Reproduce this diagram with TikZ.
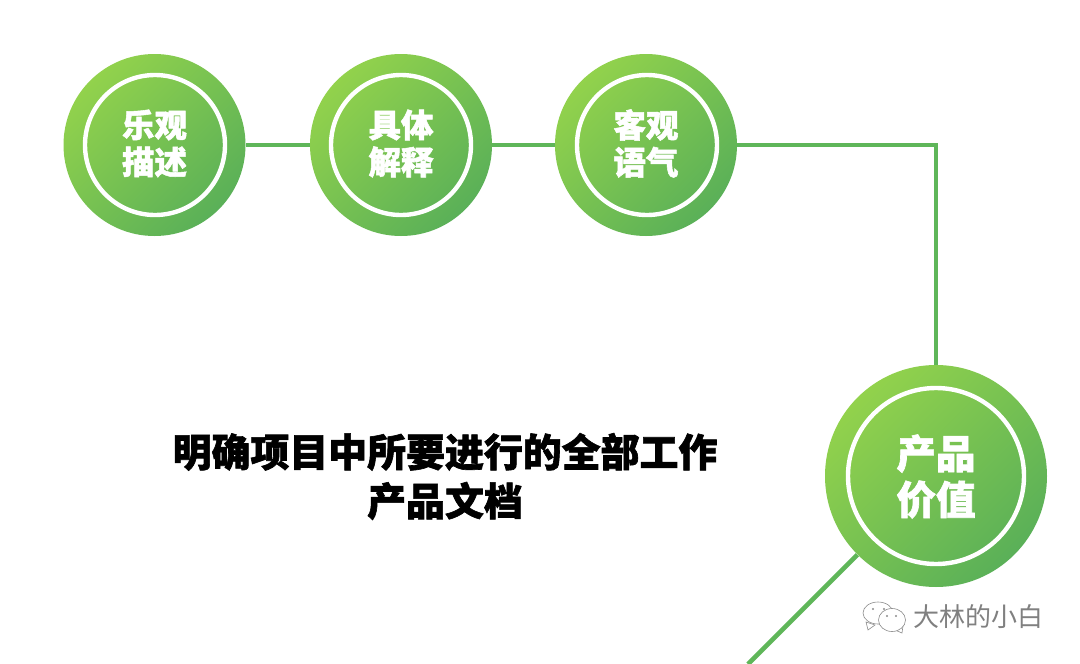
\documentclass[tikz,border=0pt]{standalone}
\usepackage{fontspec}
\newfontfamily\cjk[BoldFeatures={FakeBold=1.6}]{Noto Sans CJK SC}
\definecolor{lightg}{HTML}{92D24C}
\definecolor{darkg}{HTML}{5AB058}
\definecolor{lineg}{HTML}{5FB659}
\tikzset{
  disc/.style={circle,draw=none,inner sep=0pt,minimum size=#1,top color=lightg,bottom color=darkg,shading angle=45},
  ringbig/.style={circle,draw=white,line width=4.4pt,inner sep=0pt,minimum size=#1,text=white,font=\cjk\bfseries\fontsize{32.5}{37}\selectfont,align=center},
  ringhuge/.style={circle,draw=white,line width=4.4pt,inner sep=0pt,minimum size=#1,text=white,font=\cjk\bfseries\fontsize{39.5}{46}\selectfont,align=center},
  conn/.style={draw=lineg,line width=4.6pt},
  title/.style={font=\cjk\bfseries\fontsize{38.9}{49}\selectfont,align=center,text=black,inner sep=0pt},
  wmark/.style={font=\cjk\fontsize{26}{26}\selectfont,text=black!50,inner sep=0pt},
  wechat/.style={draw=black!45,line width=0.6pt,fill=white},
  eye/.style={fill=black!45,draw=none}
}
\begin{document}
\begin{tikzpicture}[x=1pt,y=-1pt]
\useasboundingbox (0,0) rectangle (1080,664);
\fill[white] (0,0) rectangle (1080,664);
\node[disc=182pt] (c1) at (154.5,145) {};
\node[disc=182pt] (c2) at (401,145) {};
\node[disc=182pt] (c3) at (646,145) {};
\node[disc=222pt] (c4) at (936,476) {};
\node[ringbig=140pt] (r1) at (155,145) {};
\node[ringbig=140pt] (r2) at (401,145) {};
\node[ringbig=140pt] (r3) at (647,145) {};
\node[ringhuge=176pt] (r4) at (936,476) {};
\node[ringbig=10pt,draw=none] (t1) at (154.5,143.5) {乐观\\描述};
\node[ringbig=10pt,draw=none] (t2) at (401,143.5) {具体\\解释};
\node[ringbig=10pt,draw=none] (t3) at (646,143.5) {客观\\语气};
\node[ringhuge=10pt,draw=none] (t4) at (936,476.5) {产品\\价值};
\coordinate (tail) at (748,664);
\draw[conn] (c1) -- (c2);
\draw[conn] (c2) -- (c3);
\draw[conn] (c3) -| (c4);
\draw[conn] (c4) -- (tail);
\node[title] (head) at (445,476.5) {明确项目中所要进行的全部工作\\产品文档};
\node[wmark] (wm) at (978,617) {大林的小白};
\draw[wechat] (866,622) -- (868,630) -- (875,625) -- cycle;
\draw[wechat] (878,613) ellipse (15pt and 11pt);
\fill[eye] (873,609) circle (1.2pt) (884,609) circle (1.2pt);
\draw[wechat] (903,626) -- (902,633) -- (895,630) -- cycle;
\draw[wechat] (892,620) ellipse (13.5pt and 11.5pt);
\fill[eye] (887,616) circle (1.1pt) (896,616) circle (1.1pt);
\end{tikzpicture}
\end{document}
